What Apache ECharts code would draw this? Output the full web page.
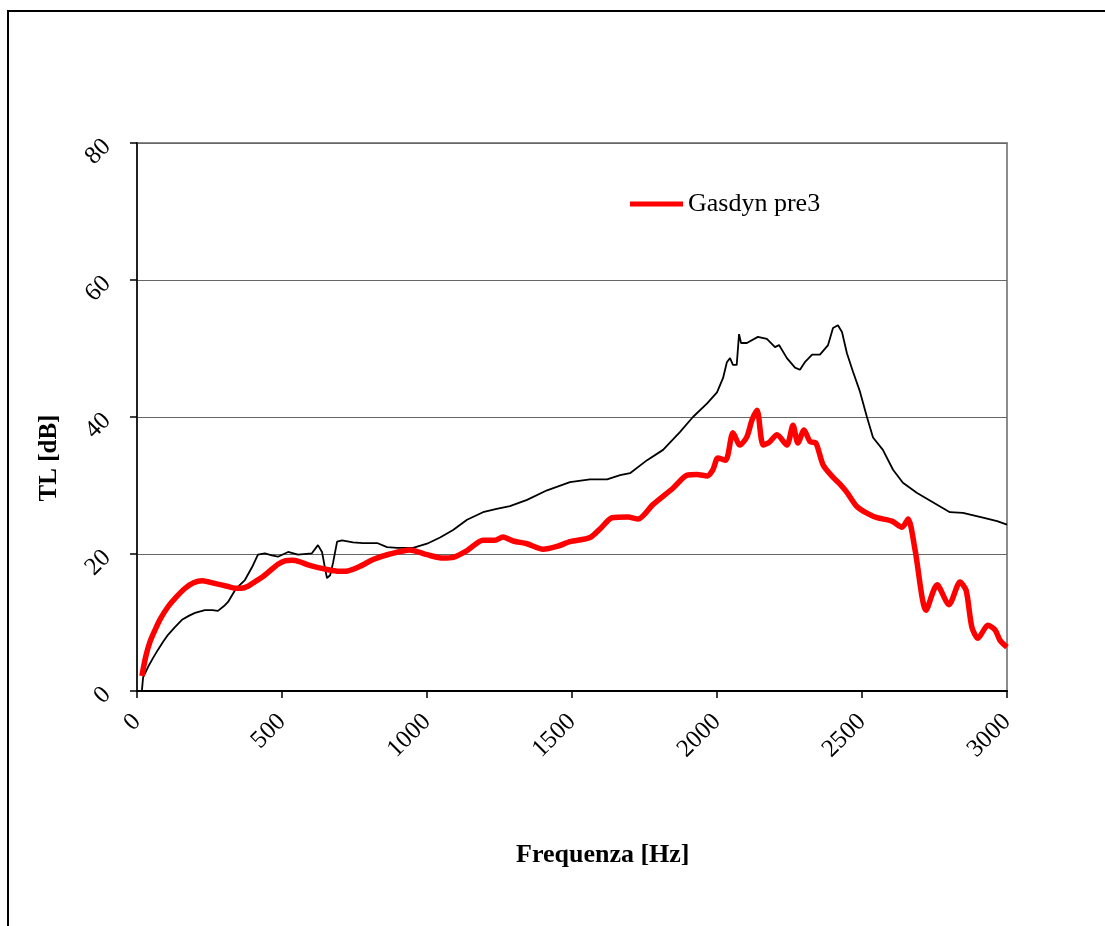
<!DOCTYPE html>
<html>
<head>
<meta charset="utf-8">
<style>
  html, body { margin: 0; padding: 0; background: #fff; }
  #chart { width: 1105px; height: 926px; }
</style>
<script src="https://cdn.jsdelivr.net/npm/echarts@6/dist/echarts.min.js"></script>
</head>
<body>
<div id="chart"></div>
<script>
// Transmission loss vs frequency

// Frequency axis ticks (Hz) and TL axis ticks (dB)
const xTicks = [0, 500, 1000, 1500, 2000, 2500, 3000];
const yTicks = [0, 20, 40, 60, 80];

// Gasdyn pre3 (simulation)
const gasdynHz = [17, 30, 45, 62, 80, 107, 135, 166, 195, 224, 250, 279, 310, 338, 360, 383, 405, 431, 460, 486,
  510, 534, 560, 590, 625, 659, 690, 720, 769, 814, 872, 941, 1000, 1055, 1090, 1138, 1193, 1234, 1262, 1297,
  1345, 1400, 1448, 1493, 1562, 1600, 1638, 1693, 1728, 1779, 1848, 1897, 1931, 1966, 1986, 2003, 2030, 2055,
  2079, 2103, 2121, 2138, 2159, 2180, 2207, 2241, 2262, 2279, 2300, 2321, 2341, 2366, 2400, 2424, 2448, 2483,
  2520, 2552, 2603, 2638, 2659, 2683, 2721, 2759, 2800, 2838, 2859, 2879, 2900, 2934, 2959, 2976, 3000];
const gasdynTL = [2.2, 5.0, 7.2, 8.9, 10.5, 12.3, 13.7, 15.0, 15.8, 16.1, 15.9, 15.6, 15.3, 15.0, 15.0, 15.3, 15.9, 16.6, 17.6, 18.5,
  19.0, 19.1, 18.9, 18.4, 18.0, 17.7, 17.5, 17.5, 18.2, 19.2, 20.0, 20.6, 19.9, 19.4, 19.5, 20.5, 22.0, 22.0, 22.5, 21.9,
  21.5, 20.7, 21.1, 21.8, 22.4, 23.8, 25.3, 25.4, 25.1, 27.2, 29.6, 31.5, 31.6, 31.4, 32.3, 34.0, 33.7, 37.7,
  35.9, 37.1, 39.6, 41.0, 35.9, 36.3, 37.4, 35.9, 38.8, 36.2, 38.1, 36.4, 36.2, 33.0, 31.2, 30.2, 29.0, 26.9,
  25.9, 25.3, 24.8, 23.9, 25.1, 20.6, 11.8, 15.5, 12.6, 15.9, 14.7, 9.3, 7.7, 9.6, 8.9, 7.4, 6.4];

// Measured transmission loss
const measHz = [17, 21, 38, 55, 72, 90, 107, 130, 155, 180, 200, 234, 260, 279, 300, 314, 338, 355, 372, 397,
  417, 441, 465, 486, 521, 555, 603, 624, 638, 648, 655, 666, 676, 690, 707, 745, 779, 828, 862, 897,
  952, 1000, 1045, 1090, 1138, 1193, 1240, 1286, 1345, 1414, 1493, 1562, 1621, 1666, 1700, 1759, 1814, 1872,
  1917, 1966, 2000, 2021, 2034, 2045, 2055, 2068, 2076, 2083, 2103, 2141, 2172, 2200, 2214, 2241, 2269, 2286,
  2303, 2328, 2355, 2383, 2400, 2417, 2431, 2448, 2469, 2493, 2517, 2538, 2572, 2607, 2641, 2690, 2759, 2803,
  2848, 2917, 2966, 3000];
const measTL = [0.1, 2.0, 3.5, 4.8, 6.0, 7.2, 8.2, 9.3, 10.4, 11.0, 11.4, 11.8, 11.8, 11.7, 12.4, 13.0, 14.7, 15.5, 16.2, 18.1,
  19.9, 20.1, 19.8, 19.6, 20.3, 19.9, 20.1, 21.3, 20.3, 18.0, 16.5, 16.9, 18.7, 21.8, 22.0, 21.7, 21.6, 21.6, 21.0, 20.9,
  20.9, 21.5, 22.4, 23.5, 25.0, 26.1, 26.6, 27.0, 27.9, 29.3, 30.5, 30.9, 30.9, 31.5, 31.8, 33.7, 35.2, 37.8,
  40.0, 42.0, 43.6, 45.7, 48.0, 48.6, 47.6, 47.6, 52.1, 50.8, 50.8, 51.7, 51.4, 50.2, 50.5, 48.6, 47.2, 46.9,
  48.0, 49.1, 49.1, 50.5, 53.0, 53.4, 52.4, 49.3, 46.6, 43.7, 40.0, 37.0, 35.2, 32.3, 30.4, 28.9, 27.2, 26.1,
  26.0, 25.3, 24.8, 24.3];

const pairs = (xs, ys) => xs.map((x, i) => [x, ys[i]]);
const FONT = 'Liberation Serif';

const chart = echarts.init(document.getElementById('chart'), null, { renderer: 'canvas' });

chart.setOption({
  backgroundColor: '#ffffff',
  animation: false,
  grid: {
    left: 137, top: 143, width: 870, height: 548,
    show: true, borderColor: '#8c8c8c', borderWidth: 2, backgroundColor: 'transparent'
  },
  legend: {
    data: ['Gasdyn pre3'],
    left: 630, top: 191, padding: 0,
    icon: 'rect',
    itemWidth: 53, itemHeight: 5,
    textStyle: { fontFamily: FONT, fontSize: 26, color: '#000' }
  },
  xAxis: {
    type: 'value',
    min: xTicks[0], max: xTicks[xTicks.length - 1], interval: 500,
    axisLine: { show: true, lineStyle: { color: '#000', width: 2 } },
    axisTick: { show: true, inside: false, length: 7, lineStyle: { color: '#000', width: 1.5 } },
    splitLine: { show: false },
    axisLabel: { rotate: 45, margin: 27, fontFamily: FONT, fontSize: 25, color: '#000',
                 formatter: v => String(v) }
  },
  yAxis: {
    type: 'value',
    min: yTicks[0], max: yTicks[yTicks.length - 1], interval: 20,
    axisLine: { show: true, lineStyle: { color: '#222', width: 2 } },
    axisTick: { show: true, inside: false, length: 7, lineStyle: { color: '#000', width: 1.5 } },
    splitLine: { show: true, lineStyle: { color: '#666', width: 1.2 } },
    axisLabel: { rotate: 45, margin: 30, fontFamily: FONT, fontSize: 25, color: '#000',
                 formatter: v => String(v) }
  },
  series: [
    {
      name: 'Misura',
      type: 'line',
      data: pairs(measHz, measTL),
      symbol: 'none',
      lineStyle: { color: '#000', width: 1.8 },
      z: 2
    },
    {
      name: 'Gasdyn pre3',
      type: 'line',
      data: pairs(gasdynHz, gasdynTL),
      symbol: 'none',
      smooth: 0.25,
      itemStyle: { color: '#ff0000' },
      lineStyle: { color: '#ff0000', width: 5.5 },
      z: 3
    }
  ],
  graphic: [
    {
      type: 'rect',
      shape: { x: 8, y: 11, width: 1200, height: 1000 },
      style: { fill: 'none', stroke: '#000', lineWidth: 2 },
      silent: true
    },
    {
      type: 'text',
      left: 516, top: 842,
      style: { text: 'Frequenza [Hz]', fontFamily: FONT, fontSize: 26, fontWeight: 'bold', fill: '#000' }
    },
    {
      type: 'text',
      x: 50, y: 458,
      rotation: Math.PI / 2,
      style: { text: 'TL [dB]', fontFamily: FONT, fontSize: 25, fontWeight: 'bold', fill: '#000',
               align: 'center', verticalAlign: 'middle' }
    }
  ]
});
</script>
</body>
</html>
